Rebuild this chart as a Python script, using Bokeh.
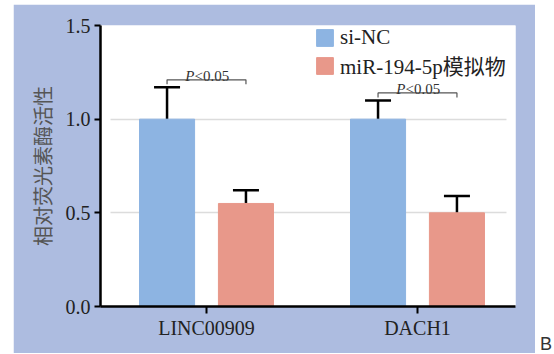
from bokeh.plotting import figure
from bokeh.models import (Legend, LegendItem, Whisker, TeeHead, ColumnDataSource,
                          PrintfTickFormatter, Div)
from bokeh.layouts import row
from bokeh.embed import file_html
from bokeh.resources import INLINE
from bokeh.core.properties import value

# ---- data ----
genes = ["LINC00909", "DACH1"]
series = ["si-NC", "miR-194-5p模拟物"]
si_nc_mean = [1.00, 1.00]
si_nc_err = [0.17, 0.10]
mimic_mean = [0.55, 0.50]
mimic_err = [0.07, 0.09]
p_labels = ["<0.05", "<0.05"]
bracket_y = [1.21, 1.14]
y_ticks = [0.0, 0.5, 1.0, 1.5]
grid_ticks = [0.5, 1.0]

BLUE = "#8DB4E2"
RED = "#E8988A"
PANEL = "#ADBCE0"
SERIF = "Liberation Serif, 'Noto Sans CJK SC'"

OFF = 0.187
BW = 0.261
xs = list(range(len(genes)))
x_blue = [x - OFF for x in xs]
x_red = [x + OFF for x in xs]

p = figure(width=522, height=349, x_range=(-0.5024, 1.4645), y_range=(0, 1.5),
           output_backend="svg", toolbar_location=None,
           min_border_left=87, min_border_right=20, min_border_top=21, min_border_bottom=47)
p.margin = (4, 0, 0, 13)
p.background_fill_color = "white"
p.border_fill_color = PANEL
p.outline_line_color = None

# grid
p.xgrid.visible = False
p.ygrid.ticker = grid_ticks
p.ygrid.grid_line_color = "#DCDCDC"
p.ygrid.grid_line_width = 1.5
try:
    p.ygrid.cross_bounds = (-0.455, 1.422)
except Exception:
    pass

src_b = ColumnDataSource(dict(x=x_blue, top=si_nc_mean, upper=[m + e for m, e in zip(si_nc_mean, si_nc_err)]))
src_r = ColumnDataSource(dict(x=x_red, top=mimic_mean, upper=[m + e for m, e in zip(mimic_mean, mimic_err)]))

rb = p.vbar(x="x", top="top", width=BW, bottom=0, source=src_b, fill_color=BLUE, line_color=BLUE)
rr = p.vbar(x="x", top="top", width=BW, bottom=0, source=src_r, fill_color=RED, line_color=RED)

for src in (src_b, src_r):
    w = Whisker(source=src, base="x", lower="top", upper="upper", dimension="height",
                line_color="black", line_width=2.5,
                upper_head=TeeHead(size=26, line_width=2.5, line_color="black"),
                lower_head=None)
    p.add_layout(w)

# significance brackets
bxs, bys = [], []
for i in range(len(genes)):
    by = bracket_y[i]
    bxs.append([x_blue[i], x_blue[i], x_red[i], x_red[i]])
    bys.append([by - 0.024, by, by, by - 0.024])
p.multi_line(xs=bxs, ys=bys, line_color="#555555", line_width=1.2)

ty = [b + 0.02 for b in bracket_y]
p.text(x=xs, y=ty, text=["P"] * len(xs), text_font=value("Liberation Serif"),
       text_font_style="italic", text_font_size="15px", text_color="#333333",
       text_align="right", text_baseline="alphabetic", x_offset=-12)
p.text(x=xs, y=ty, text=p_labels, text_font=value("Liberation Serif"),
       text_font_size="15px", text_color="#333333",
       text_align="left", text_baseline="alphabetic", x_offset=-12)

# axes
p.yaxis.ticker = y_ticks
p.yaxis.formatter = PrintfTickFormatter(format="%.1f")
p.yaxis.axis_label = "相对荧光素酶活性"
p.yaxis.axis_label_text_font = "Noto Sans CJK SC"
p.yaxis.axis_label_text_font_size = "20px"
p.yaxis.axis_label_text_font_style = "normal"
p.yaxis.axis_label_text_color = "#555555"
p.yaxis.axis_label_standoff = 6
p.yaxis.major_tick_out = 6
p.yaxis.major_label_standoff = 4

p.xaxis.ticker = xs
p.xaxis.major_label_overrides = {i: g for i, g in enumerate(genes)}
p.xaxis.major_tick_out = 7
p.xaxis.major_label_standoff = 3

for ax in (p.xaxis, p.yaxis):
    ax.axis_line_width = 2.5
    ax.axis_line_color = "black"
    ax.major_tick_line_width = 2
    ax.major_tick_line_color = "black"
    ax.major_tick_in = 0
    ax.minor_tick_line_color = None
    ax.major_label_text_font = "Liberation Serif"
    ax.major_label_text_font_size = "20px"
    ax.major_label_text_color = "#222222"

legend = Legend(items=[LegendItem(label=series[0], renderers=[rb]),
                       LegendItem(label=series[1], renderers=[rr])],
                location=(214, 226), padding=0, margin=0, spacing=-2,
                glyph_width=21, glyph_height=21, label_standoff=5,
                label_text_font=SERIF, label_text_font_size="21px",
                label_text_color="#222222",
                border_line_color=None, background_fill_alpha=0)
p.add_layout(legend)

div = Div(text="B", width=12, height=16, margin=(336, 0, 0, 5),
          styles={"font-family": "Liberation Sans, Arial, sans-serif", "font-size": "18px",
                  "color": "#333333", "line-height": "16px"})

layout = row(p, div)
open("out.html", "w").write(file_html(layout, INLINE))
